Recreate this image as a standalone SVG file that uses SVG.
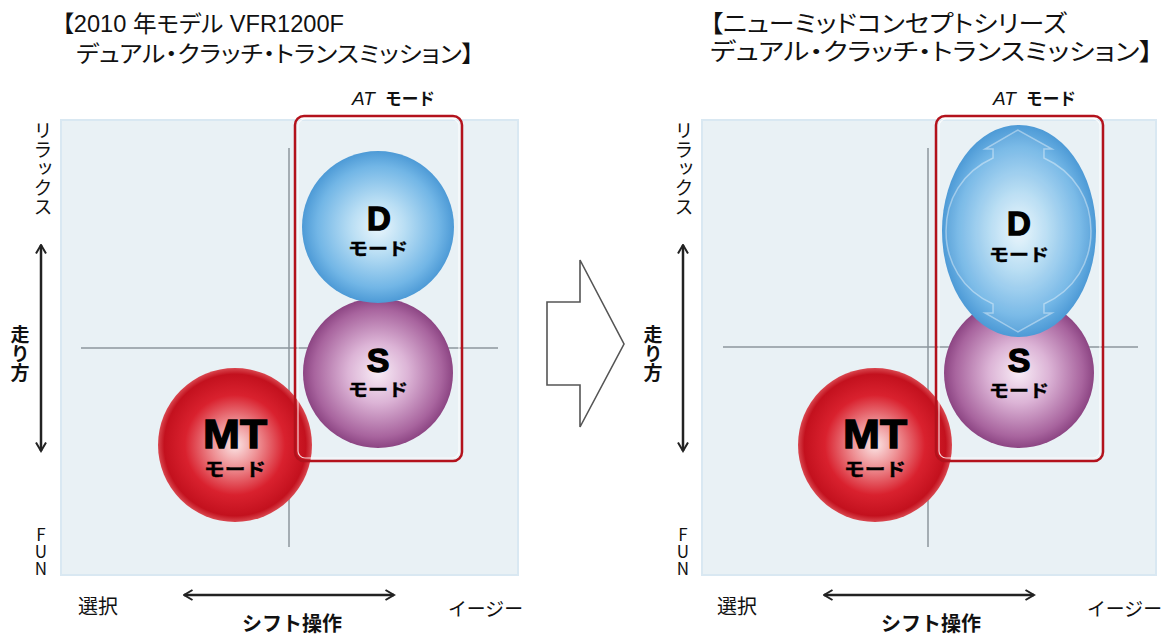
<svg xmlns="http://www.w3.org/2000/svg" width="1169" height="637" viewBox="0 0 1169 637">
<style>
.title{font-family:"Liberation Sans","Noto Sans CJK JP",sans-serif;fill:#111;font-feature-settings:"palt"}
.lbl{font-family:"Liberation Sans","Noto Sans CJK JP",sans-serif;fill:#111}
.vlbl{font-family:"Noto Sans CJK JP",sans-serif;font-size:19px;fill:#111;writing-mode:vertical-rl}
.fun{font-family:"Noto Sans CJK JP",sans-serif;font-size:17px;fill:#111;writing-mode:vertical-rl;text-orientation:upright}
.vbold{font-family:"Noto Sans CJK JP",sans-serif;font-size:19px;font-weight:bold;fill:#111;writing-mode:vertical-rl}
.bold{font-family:"Noto Sans CJK JP",sans-serif;font-weight:bold;fill:#111}
.big{font-family:"Liberation Sans",Arial,sans-serif;font-weight:bold;fill:#000;stroke:#000;stroke-width:1.3;text-anchor:middle}
.mode{font-family:"Noto Sans CJK JP",sans-serif;font-weight:bold;fill:#000;stroke:#000;stroke-width:0.4;text-anchor:middle}
.panel{fill:#e9f1f5;stroke:#d9e8f2;stroke-width:2}
.grid{stroke:#8d969c;stroke-width:1.5}
.axis{stroke:#222;stroke-width:2.5;fill:none}
.atbox{fill:none;stroke:#b3121c;stroke-width:2.5}
.atin{fill:none;stroke:#fff;stroke-width:1.2;stroke-opacity:0.8}
</style>
<defs>
<radialGradient id="gBlue" cx="50%" cy="50%" r="50%">
<stop offset="0" stop-color="#eaf6fc"/><stop offset="0.35" stop-color="#b9def4"/><stop offset="0.8" stop-color="#72b6e6"/><stop offset="1" stop-color="#4d9ad6"/>
</radialGradient>
<radialGradient id="gPurple" cx="50%" cy="50%" r="50%">
<stop offset="0" stop-color="#f8ecf6"/><stop offset="0.4" stop-color="#dcb4d6"/><stop offset="0.85" stop-color="#a8649e"/><stop offset="1" stop-color="#8c4583"/>
</radialGradient>
<radialGradient id="gRed" cx="50%" cy="50%" r="50%">
<stop offset="0" stop-color="#fbe5e5"/><stop offset="0.3" stop-color="#ee8f93"/><stop offset="0.65" stop-color="#d9212e"/><stop offset="0.92" stop-color="#c3111e"/><stop offset="1" stop-color="#d9474f"/>
</radialGradient>
<marker id="chev" viewBox="0 0 12 12" refX="10.5" refY="6" markerWidth="12" markerHeight="12" markerUnits="userSpaceOnUse" orient="auto-start-reverse">
<path d="M2,1 L10.5,6 L2,11" fill="none" stroke="#222" stroke-width="2"/>
</marker>
</defs>
<rect width="1169" height="637" fill="#fff"/>

<!-- LEFT PANEL -->
<g id="left-title">
<text class="title" x="62" y="32" font-size="23" textLength="282" lengthAdjust="spacingAndGlyphs">【2010 年モデル  VFR1200F</text>
<text class="title" x="76" y="62" font-size="23" textLength="398" lengthAdjust="spacingAndGlyphs">デュアル・クラッチ・トランスミッション】</text>
</g>
<g id="left-panel">
<rect class="panel" x="61" y="120" width="457" height="455"/>
<line class="grid" x1="289" y1="148" x2="289" y2="547"/>
<line class="grid" x1="81" y1="348" x2="498" y2="348"/>
</g>
<g id="left-mt">
<circle cx="235" cy="445" r="77" fill="url(#gRed)"/>
<text class="big" x="235" y="448" font-size="40" textLength="64" lengthAdjust="spacingAndGlyphs">MT</text>
<text class="mode" x="235" y="476" font-size="18" textLength="62" lengthAdjust="spacingAndGlyphs">モード</text>
</g>
<g id="left-s">
<circle cx="378" cy="373" r="75" fill="url(#gPurple)"/>
<text class="big" x="378" y="372" font-size="34">S</text>
<text class="mode" x="378" y="396" font-size="17" textLength="60" lengthAdjust="spacingAndGlyphs">モード</text>
</g>
<g id="left-d">
<circle cx="378" cy="227" r="76" fill="url(#gBlue)"/>
<text class="big" x="379" y="230" font-size="33">D</text>
<text class="mode" x="378" y="255" font-size="17" textLength="60" lengthAdjust="spacingAndGlyphs">モード</text>
</g>
<g id="left-at">
<rect class="atbox" x="295" y="116" width="167" height="345" rx="9"/>
<rect class="atin" x="298" y="119" width="161" height="339" rx="7"/>
<text x="352" y="105" font-size="19" font-family="Liberation Sans,sans-serif" font-style="italic" fill="#111">AT</text>
<text class="bold" x="385" y="105" font-size="17" textLength="50" lengthAdjust="spacingAndGlyphs">モード</text>
</g>
<g id="left-labels">
<text class="vlbl" x="43" y="121">リラックス</text>
<text class="vbold" x="20" y="325">走り方</text>
<text class="fun" x="41" y="526">FUN</text>
<text class="lbl" x="78" y="614" font-size="20">選択</text>
<text class="lbl" x="448" y="616" font-size="19" textLength="75" lengthAdjust="spacingAndGlyphs">イージー</text>
<text class="bold" x="292" y="631" font-size="20" text-anchor="middle">シフト操作</text>
</g>

<!-- RIGHT PANEL -->
<g id="right-title">
<text class="title" x="710" y="32" font-size="24" textLength="357" lengthAdjust="spacingAndGlyphs">【ニューミッドコンセプトシリーズ</text>
<text class="title" x="710" y="60" font-size="24" textLength="443" lengthAdjust="spacingAndGlyphs">デュアル・クラッチ・トランスミッション】</text>
</g>
<g id="right-panel">
<rect class="panel" x="702" y="120" width="454" height="455"/>
<line class="grid" x1="928" y1="148" x2="928" y2="547"/>
<line class="grid" x1="723" y1="347" x2="1138" y2="347"/>
</g>
<g id="right-mt">
<circle cx="875" cy="445" r="77" fill="url(#gRed)"/>
<text class="big" x="875" y="448" font-size="40" textLength="64" lengthAdjust="spacingAndGlyphs">MT</text>
<text class="mode" x="875" y="476" font-size="18" textLength="62" lengthAdjust="spacingAndGlyphs">モード</text>
</g>
<g id="right-s">
<circle cx="1019" cy="373" r="75" fill="url(#gPurple)"/>
<text class="big" x="1019" y="372" font-size="34">S</text>
<text class="mode" x="1019" y="397" font-size="17" textLength="60" lengthAdjust="spacingAndGlyphs">モード</text>
</g>
<g id="right-d">
<ellipse cx="1019" cy="231" rx="77" ry="106" fill="url(#gBlue)"/>
<path d="M1018,130 L985,149 L993,149 L993,158 C962,172 946,200 946,231 C946,262 962,290 993,304 L993,313 L985,313 L1018,332 L1052,313 L1044,313 L1044,304 C1075,290 1091,262 1091,231 C1091,200 1075,172 1044,158 L1044,149 L1052,149 Z" fill="#fff" fill-opacity="0.06" stroke="#fff" stroke-opacity="0.4" stroke-width="1.5"/>
<text class="big" x="1019" y="235" font-size="33">D</text>
<text class="mode" x="1019" y="261" font-size="17" textLength="60" lengthAdjust="spacingAndGlyphs">モード</text>
</g>
<g id="right-at">
<rect class="atbox" x="936" y="116" width="167" height="345" rx="9"/>
<rect class="atin" x="939" y="119" width="161" height="339" rx="7"/>
<text x="993" y="105" font-size="19" font-family="Liberation Sans,sans-serif" font-style="italic" fill="#111">AT</text>
<text class="bold" x="1026" y="105" font-size="17" textLength="50" lengthAdjust="spacingAndGlyphs">モード</text>
</g>
<g id="right-labels">
<text class="vlbl" x="684" y="121">リラックス</text>
<text class="vbold" x="653" y="325">走り方</text>
<text class="fun" x="683" y="526">FUN</text>
<text class="lbl" x="717" y="614" font-size="20">選択</text>
<text class="lbl" x="1087" y="616" font-size="19" textLength="75" lengthAdjust="spacingAndGlyphs">イージー</text>
<text class="bold" x="931" y="631" font-size="20" text-anchor="middle">シフト操作</text>
</g>

<g id="connectors">
<line class="axis" x1="41" y1="245" x2="41" y2="451" marker-start="url(#chev)" marker-end="url(#chev)"/>
<line class="axis" x1="184" y1="595" x2="394" y2="595" marker-start="url(#chev)" marker-end="url(#chev)"/>
<line class="axis" x1="683" y1="245" x2="683" y2="451" marker-start="url(#chev)" marker-end="url(#chev)"/>
<line class="axis" x1="824" y1="595" x2="1034" y2="595" marker-start="url(#chev)" marker-end="url(#chev)"/>
<path id="transition-arrow" d="M547,302 L580,302 L580,260 L624,344 L580,427 L580,385 L547,385 Z" fill="#fff" stroke="#555" stroke-width="1.6"/>
</g>
</svg>
